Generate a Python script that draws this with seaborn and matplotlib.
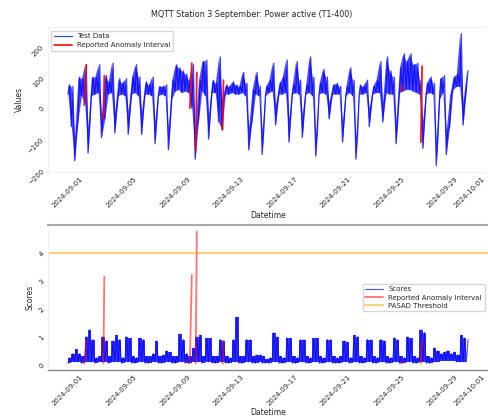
import pandas as pd
import matplotlib
matplotlib.use("Agg")
import matplotlib.pyplot as plt
import matplotlib.dates as mdates
import seaborn as sns

START = "2024-09-01 00:00"
TITLE = "MQTT Station 3 September: Power active (T1-400)"

# test data envelope, 6-hourly slots (00h, 06h, 12h, 18h), one row per day
test_lo = [
    45, -60, -170, -40,
    40, 15, -145, 40,
    45, 50, -95, -35,
    45, 50, -80, 40,
    45, 40, -85, 45,
    50, 40, -85, 45,
    45, 40, -115, 40,
    45, 40, -135, 30,
    55, 60, 50, 55,
    50, 0, -165, -40,
    55, 40, -100, 50,
    50, -45, -70, 45,
    45, 50, 45, 45,
    50, 40, -135, -40,
    45, 40, -150, 40,
    50, 55, -55, 45,
    45, 50, -110, 45,
    50, 45, -95, 45,
    50, 40, -155, 45,
    50, 45, -35, 45,
    45, 45, -110, 40,
    50, 40, -165, 45,
    45, 50, -60, 45,
    50, 50, -45, 50,
    45, 45, -115, 50,
    55, 60, 60, 55,
    50, 45, -130, 45,
    50, 45, -185, 30,
    50, -150, -60, 60,
    70, 70, -55, 60,
]
test_hi = [
    75, 70, -90, 100,
    95, 140, -60, 100,
    100, 140, -20, 105,
    85, 145, -10, 95,
    80, 95, -10, 100,
    140, 100, -10, 85,
    75, 100, -40, 70,
    70, 75, -60, 90,
    140, 130, 120, 110,
    90, 140, -60, 90,
    150, 155, -20, 90,
    80, 165, 30, 75,
    70, 85, 75, 70,
    115, 80, -60, 60,
    115, 70, -70, 70,
    90, 145, 10, 80,
    100, 155, -30, 75,
    150, 90, -20, 75,
    165, 100, -80, 80,
    125, 100, 20, 75,
    80, 70, -40, 70,
    130, 90, -90, 75,
    70, 90, 0, 70,
    90, 150, 20, 165,
    120, 100, -40, 130,
    175, 150, 175, 140,
    145, 90, -40, 80,
    100, 80, -100, 95,
    105, -70, 40, 100,
    110, 240, 20, 120,
]

# PASAD scores envelope, same slots
score_lo = [
    0.05, 0.10, 0.10, 0.10,
    0.05, 0.10, 0.10, 0.10,
    0.05, 0.10, 0.10, 0.10,
    0.05, 0.10, 0.10, 0.10,
    0.05, 0.10, 0.10, 0.05,
    0.05, 0.10, 0.10, 0.05,
    0.05, 0.10, 0.10, 0.05,
    0.05, 0.10, 0.10, 0.05,
    0.05, 0.10, 0.10, 0.05,
    0.05, 0.10, 0.10, 0.10,
    0.05, 0.10, 0.10, 0.05,
    0.05, 0.10, 0.10, 0.05,
    0.05, 0.10, 0.10, 0.05,
    0.05, 0.10, 0.10, 0.05,
    0.05, 0.10, 0.05, 0.05,
    0.05, 0.10, 0.10, 0.05,
    0.05, 0.10, 0.10, 0.05,
    0.05, 0.10, 0.10, 0.05,
    0.05, 0.10, 0.10, 0.05,
    0.05, 0.10, 0.10, 0.05,
    0.05, 0.05, 0.10, 0.10,
    0.05, 0.10, 0.10, 0.05,
    0.05, 0.10, 0.10, 0.05,
    0.05, 0.10, 0.10, 0.05,
    0.05, 0.10, 0.10, 0.05,
    0.05, 0.10, 0.10, 0.05,
    0.05, 0.10, 0.10, 0.05,
    0.05, 0.10, 0.10, 0.15,
    0.15, 0.15, 0.15, 0.15,
    0.10, 0.10, 0.10, 0.10,
]
score_hi = [
    0.25, 0.40, 0.55, 0.40,
    0.30, 1.00, 1.25, 0.90,
    0.25, 0.30, 1.00, 0.85,
    0.30, 0.85, 1.05, 0.90,
    0.25, 1.00, 0.95, 0.30,
    0.25, 0.95, 0.90, 0.30,
    0.30, 0.40, 0.85, 0.30,
    0.35, 0.50, 0.45, 0.30,
    0.30, 1.10, 0.90, 0.40,
    0.30, 0.60, 1.00, 1.05,
    0.30, 0.95, 0.95, 0.30,
    0.30, 0.90, 0.85, 0.30,
    0.25, 0.90, 1.70, 0.30,
    0.30, 0.90, 0.90, 0.30,
    0.35, 0.35, 0.30, 0.20,
    0.25, 1.15, 1.00, 0.30,
    0.25, 0.95, 0.95, 0.30,
    0.25, 0.90, 0.90, 0.30,
    0.25, 0.95, 0.95, 0.30,
    0.25, 0.90, 0.90, 0.30,
    0.25, 0.30, 0.85, 0.80,
    0.25, 1.05, 1.00, 0.30,
    0.25, 0.90, 0.90, 0.30,
    0.25, 0.90, 0.85, 0.30,
    0.25, 0.95, 0.90, 0.30,
    0.25, 1.00, 0.95, 0.30,
    0.25, 1.25, 1.15, 0.30,
    0.25, 0.60, 0.50, 0.40,
    0.45, 0.50, 0.40, 0.45,
    0.35, 1.05, 0.95, 0.90,
]

# reported anomaly intervals
anom_start = ["2024-09-02 05:15", "2024-09-03 15:30", "2024-09-10 02:30",
              "2024-09-10 13:00", "2024-09-12 13:15", "2024-09-25 21:00",
              "2024-09-27 08:30"]
anom_end = ["2024-09-02 09:00", "2024-09-03 17:15", "2024-09-10 06:00",
            "2024-09-10 15:00", "2024-09-12 14:45", "2024-09-25 23:15",
            "2024-09-27 10:45"]
anom_val_lo = [10, -35, 0, -135, -70, 55, -110]
anom_val_hi = [140, 105, 145, 115, 90, 70, 135]
anom_score_lo = [0.05, 0.05, 0.05, 0.05, 0.05, 0.05, 0.05]
anom_score_hi = [0.85, 3.15, 3.2, 4.75, 0.85, 0.12, 0.9]

threshold = 4.0


def slot_times(n):
    return pd.date_range(START, periods=n, freq="6h")


def envelope_frame(lo, hi):
    slots = slot_times(len(lo))
    df = pd.DataFrame({
        "Datetime": list(slots) + list(slots + pd.Timedelta("3h")),
        "value": lo + hi,
    })
    return df.sort_values("Datetime").reset_index(drop=True)


def draw_anomalies(ax, lo, hi, alpha, lw):
    for i in range(len(anom_start)):
        seg = pd.DataFrame({"Datetime": [pd.Timestamp(anom_start[i]), pd.Timestamp(anom_end[i])],
                            "value": [lo[i], hi[i]]})
        sns.lineplot(data=seg, x="Datetime", y="value", ax=ax, sort=False,
                     color="red", lw=lw, alpha=alpha,
                     label="Reported Anomaly Interval" if i == 0 else "_nolegend_")


def style_axes(ax, strong_frame=False):
    ax.xaxis.set_major_locator(mdates.DayLocator(bymonthday=[1, 5, 9, 13, 17, 21, 25, 29]))
    ax.xaxis.set_major_formatter(mdates.DateFormatter("%Y-%m-%d"))
    ax.tick_params(axis="x", labelrotation=45, labelsize=5, length=2, width=0.5,
                   color="#999999", pad=1)
    ax.tick_params(axis="y", labelrotation=45, labelsize=5, length=0, pad=2)
    ax.set_xlabel("Datetime", fontsize=5.5, labelpad=1)
    for side, sp in ax.spines.items():
        sp.set_color("#f0f0f0")
        sp.set_linewidth(0.8)
    if strong_frame:
        ax.spines["top"].set_color("#aaaaaa")
        ax.spines["top"].set_linewidth(1.5)
        ax.spines["bottom"].set_color("#888888")
        ax.spines["bottom"].set_linewidth(1.0)


sns.set_theme(style="white")
plt.rcParams["font.family"] = ["DejaVu Sans"]

fig = plt.figure(figsize=(4.89, 4.17), dpi=100)
ax1 = fig.add_axes([0.098, 0.5875, 0.90, 0.3475])
ax2 = fig.add_axes([0.098, 0.113, 0.90, 0.347])

# 1. test data
ax1.fill_between(slot_times(len(test_lo)), test_lo, test_hi, color="blue",
                 alpha=0.7, lw=0)
test_df = envelope_frame(test_lo, test_hi)
sns.lineplot(data=test_df, x="Datetime", y="value", ax=ax1, color="blue",
             lw=0.9, alpha=0.75, label="Test Data", estimator=None)
draw_anomalies(ax1, anom_val_lo, anom_val_hi, 0.9, 1.3)
style_axes(ax1)
ax1.set_ylabel("Values", fontsize=5.5, labelpad=2)
ax1.legend(loc="upper left", fontsize=5, frameon=True, handlelength=2.5,
           borderpad=0.4, labelspacing=0.4)
fig.text(0.515, 0.965, TITLE, ha="center", va="center", fontsize=5.8)

# 2. scores
ax2.fill_between(slot_times(len(score_lo)), score_lo, score_hi, step="post",
                 color="blue", alpha=0.8, lw=0)
score_df = envelope_frame(score_lo, score_hi)
sns.lineplot(data=score_df, x="Datetime", y="value", ax=ax2, color="blue",
             lw=0.8, alpha=0.7, label="Scores", estimator=None)
draw_anomalies(ax2, anom_score_lo, anom_score_hi, 0.55, 1.3)
ax2.axhline(threshold, color="orange", alpha=0.5, lw=1.6, label="PASAD Threshold")
style_axes(ax2, strong_frame=True)
ax2.set_ylabel("Scores", fontsize=5.5, labelpad=2)
ax2.legend(loc="center right", fontsize=5, frameon=True, handlelength=2.5,
           borderpad=0.4, labelspacing=0.3)

fig.savefig("out.png", dpi=100)
